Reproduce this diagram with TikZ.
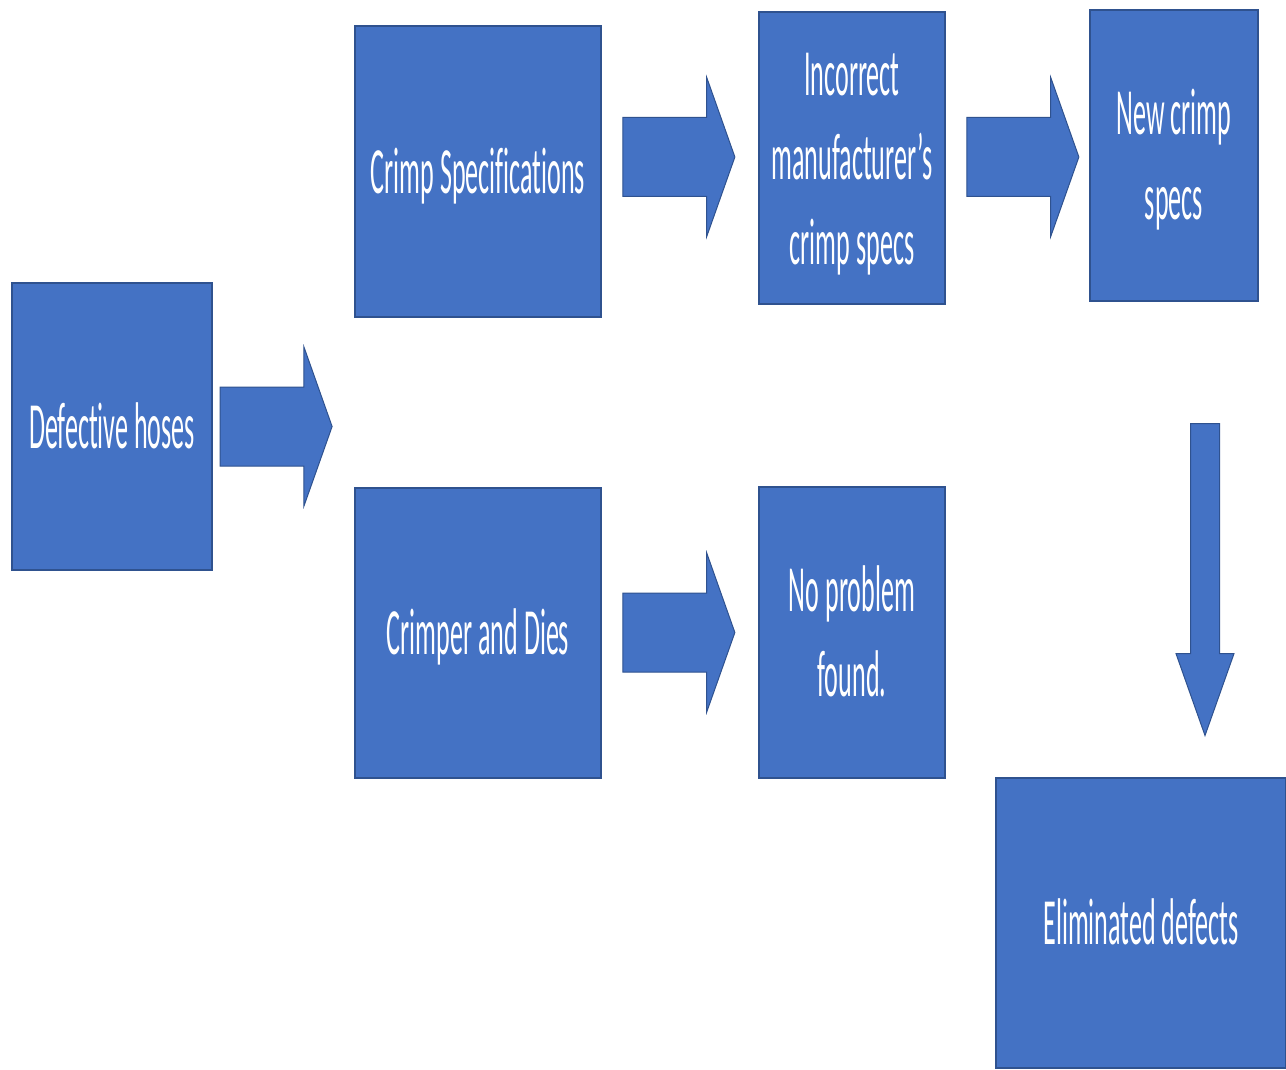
\documentclass[tikz,border=0pt]{standalone}
\usepackage{fontspec}
\setmainfont{Carlito}[FakeStretch=0.395, Ligatures=NoCommon]
\usepackage{xcolor}
\usetikzlibrary{shapes.arrows, calc}

\definecolor{boxblue}{HTML}{4472C4}
\definecolor{edgeblue}{HTML}{2F528F}

% one line of box text: 63.8pt above, 20.7pt below the baseline
\newcommand{\bl}{\rule[-20.7pt]{0pt}{84.5pt}}

\tikzset{
  stepbox/.style={draw=edgeblue, fill=boxblue, line width=1.2pt, text=white,
    align=center, inner sep=0pt, font={\fontsize{66}{84.5}\selectfont}},
  fatarrow/.style={single arrow, draw=edgeblue, fill=boxblue, line width=1pt,
    inner xsep=0pt, inner ysep=39pt, minimum height=112pt, minimum width=158pt,
    single arrow head extend=40pt, single arrow tip angle=141},
  downarrow/.style={single arrow, draw=edgeblue, fill=boxblue, line width=1pt,
    inner xsep=0pt, inner ysep=14pt, minimum height=312pt, minimum width=57pt,
    single arrow head extend=14.5pt, single arrow tip angle=39, rotate=-90}
}

\begin{document}
\begin{tikzpicture}[x=1pt, y=1pt]
  \useasboundingbox (0, 0) rectangle (1286, -1070);

  % Boxes
  \node[stepbox, minimum width=200pt, minimum height=287pt] (hoses) at (112, -426.5)
    {\bl Defective hoses};
  \node[stepbox, minimum width=246pt, minimum height=291pt] (crimpspec) at (478, -171.5)
    {\bl Crimp Specifications};
  \node[stepbox, minimum width=246pt, minimum height=290pt] (crimper) at (478, -633)
    {\bl Crimper and Dies};
  \node[stepbox, minimum width=186pt, minimum height=292pt] (incorrect) at (852, -158)
    {\bl Incorrect\\\bl manufacturer’s\\\bl crimp specs};
  \node[stepbox, minimum width=168pt, minimum height=291pt] (newspecs) at (1174, -155.5)
    {\bl New crimp\\\bl specs};
  \node[stepbox, minimum width=186pt, minimum height=291pt] (nofault) at (852, -632.5)
    {\bl No problem\\\bl found.};
  \node[stepbox, minimum width=290pt, minimum height=290pt] (eliminated) at (1141, -923)
    {\bl Eliminated defects};

  % Block arrows
  \node[fatarrow, anchor=tail] (hosesarrow) at ($(hoses.east) + (7, 0)$) {};
  \node[fatarrow, anchor=tip] (specarrow) at ($(incorrect.west) + (-23, 1)$) {};
  \node[fatarrow, anchor=tip] (newarrow) at ($(newspecs.west) + (-10, -1.5)$) {};
  \node[fatarrow, anchor=tip] (diesarrow) at ($(nofault.west) + (-23, 0)$) {};
  \node[downarrow, anchor=tail] (elimarrow) at (1205, -423) {};
\end{tikzpicture}
\end{document}
